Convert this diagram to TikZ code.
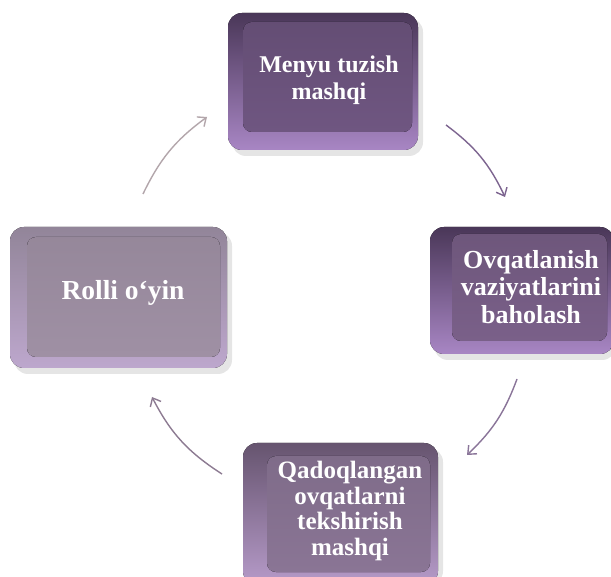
\documentclass[tikz,border=0pt]{standalone}
\usepackage{fontspec}
\setmainfont{Liberation Serif}
\usetikzlibrary{arrows.meta}
\definecolor{topface}{HTML}{6F5681}
\definecolor{rightface}{HTML}{7A6089}
\definecolor{botface}{HTML}{8A7595}
\definecolor{leftface}{HTML}{9F90A4}
\definecolor{bevdark}{HTML}{4A3758}
\definecolor{bevmid}{HTML}{7E6192}
\definecolor{bevlight}{HTML}{A886C4}
\definecolor{bevdarkB}{HTML}{66546F}
\definecolor{bevmidB}{HTML}{8F7A9C}
\definecolor{bevlightB}{HTML}{B69BC9}
\definecolor{bevdarkL}{HTML}{928599}
\definecolor{bevmidL}{HTML}{A595AE}
\definecolor{bevlightL}{HTML}{BDA7CD}
\definecolor{arrA}{HTML}{7D6590}
\definecolor{arrB}{HTML}{8A7599}
\definecolor{arrC}{HTML}{8D7B92}
\definecolor{arrD}{HTML}{B3A6AB}
\tikzset{
  boxtext/.style={text=white, font=\bfseries\fontsize{24}{27}\selectfont, align=center, inner sep=0pt},
  cyc/.style={line width=1.4pt, -{Straight Barb[length=7pt,width=12pt,line width=1.4pt]}},
  shadowbox/.style={fill=black, opacity=0.10, rounded corners=14pt},
  outerbox/.style={rounded corners=14pt},
  facebox/.style={rounded corners=9pt},
}
\begin{document}
\begin{tikzpicture}[x=1pt,y=-1pt]
\useasboundingbox (0,0) rectangle (611,577);
\fill[white] (0,0) rectangle (611,577);

% ---------- top box ----------
\fill[shadowbox] (232,18) rectangle (423,156);
\fill[outerbox, top color=bevdark, middle color=bevmid, bottom color=bevlight] (228,13) rectangle (418,150);
\fill[facebox, top color=topface!90!black, bottom color=topface] (243,22) rectangle (412,132);
\node[boxtext] (top) at (329,80) {Menyu tuzish\\mashqi};

% ---------- right box ----------
\fill[shadowbox] (434,232) rectangle (616,360);
\fill[outerbox, top color=bevdark, middle color=bevmid, bottom color=bevlight] (430,227) rectangle (614,354);
\fill[facebox, top color=rightface!90!black, bottom color=rightface] (452,234) rectangle (607,341);
\node[boxtext, font=\bfseries\fontsize{26}{27.5}\selectfont] (right) at (531,287) {Ovqatlanish\\vaziyatlarini\\baholash};

% ---------- bottom box ----------
\fill[shadowbox] (247,448) rectangle (443,585);
\fill[outerbox, top color=bevdarkB, middle color=bevmidB, bottom color=bevlightB] (243,443) rectangle (438,585);
\fill[facebox, top color=botface!92!black, bottom color=botface] (267,456) rectangle (430,572);
\node[boxtext, font=\bfseries\fontsize{25}{25.7}\selectfont] (bottom) at (350,511) {Qadoqlangan\\ovqatlarni\\tekshirish\\mashqi};

% ---------- left box ----------
\fill[shadowbox] (14,232) rectangle (232,374);
\fill[outerbox, top color=bevdarkL, middle color=bevmidL, bottom color=bevlightL] (10,227) rectangle (227,368);
\fill[facebox, top color=leftface!94!black, bottom color=leftface] (27,237) rectangle (220,357);
\node[boxtext, font=\bfseries\fontsize{27.5}{30}\selectfont] (left) at (123,293) {Rolli o‘yin};

% ---------- arrows ----------
\coordinate (a1s) at (446,125); \coordinate (a1e) at (505,197);
\coordinate (a2s) at (517,379); \coordinate (a2e) at (467,455);
\coordinate (a3s) at (222,474); \coordinate (a3e) at (152,397);
\coordinate (a4s) at (143,194); \coordinate (a4e) at (207,117);
\draw[cyc, arrA] (a1s) to[bend left=14] (a1e);
\draw[cyc, arrB] (a2s) to[bend left=13] (a2e);
\draw[cyc, arrC] (a3s) to[bend left=15] (a3e);
\draw[cyc, arrD] (a4s) to[bend left=14] (a4e);
\end{tikzpicture}
\end{document}
